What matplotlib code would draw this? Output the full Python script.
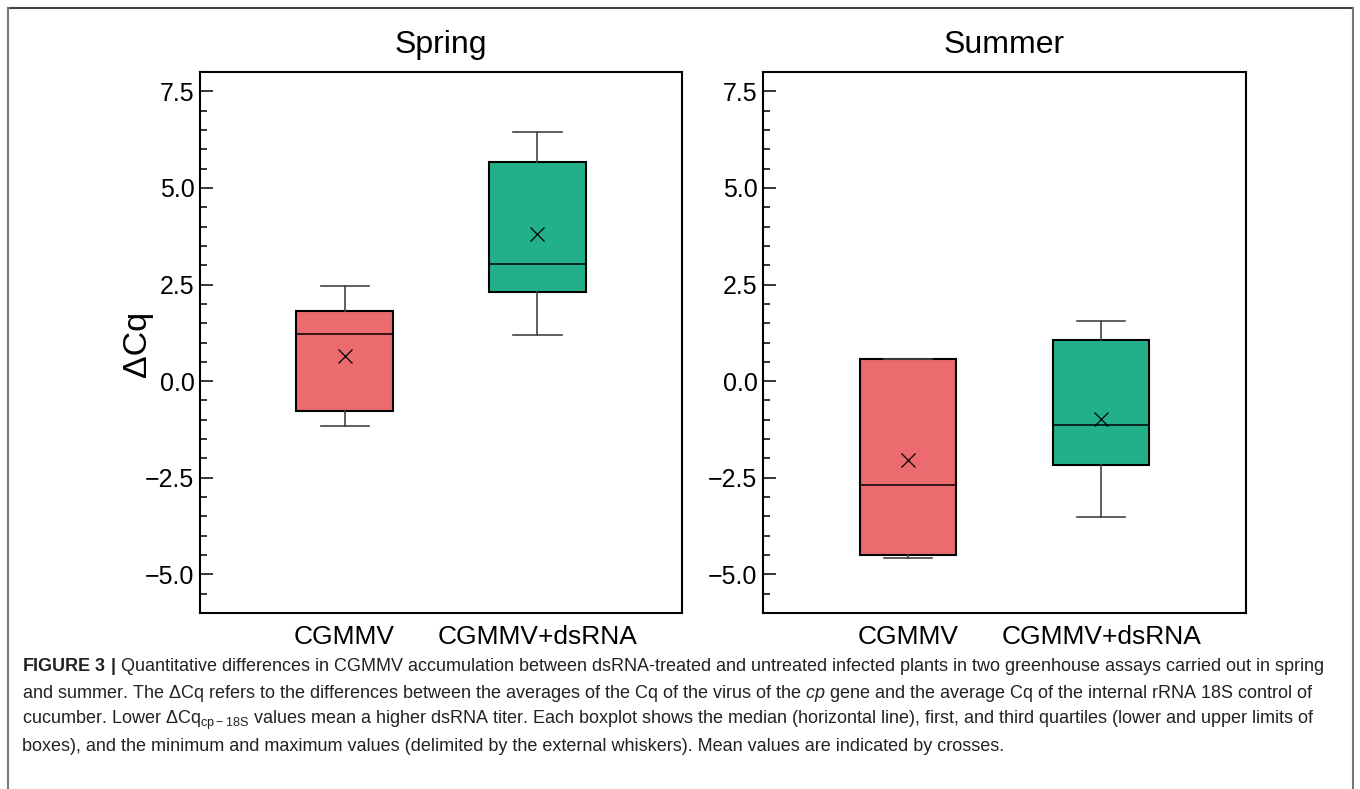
import matplotlib
matplotlib.use("Agg")
import matplotlib.pyplot as plt
from matplotlib.lines import Line2D
from matplotlib.ticker import MultipleLocator, FuncFormatter

plt.rcParams["font.family"] = ["Liberation Sans", "DejaVu Sans"]
plt.rcParams["mathtext.fontset"] = "custom"
plt.rcParams["mathtext.rm"] = "Liberation Sans"
plt.rcParams["mathtext.it"] = "Liberation Sans:italic"
plt.rcParams["mathtext.bf"] = "Liberation Sans:bold"

GROUPS = ["CGMMV", "CGMMV+dsRNA"]
BOX_COLORS = ["#EC6B6E", "#22B08A"]

# spring assay: five-number summary and mean per group
SPRING_MIN = [-1.17, 1.20]
SPRING_Q1 = [-0.77, 2.31]
SPRING_MED = [1.23, 3.02]
SPRING_Q3 = [1.82, 5.67]
SPRING_MAX = [2.45, 6.44]
SPRING_MEAN = [0.64, 3.82]

# summer assay
SUMMER_MIN = [-4.57, -3.52]
SUMMER_Q1 = [-4.49, -2.16]
SUMMER_MED = [-2.68, -1.14]
SUMMER_Q3 = [0.57, 1.06]
SUMMER_MAX = [0.57, 1.56]
SUMMER_MEAN = [-2.05, -0.98]

CAPTION = [
    r"$\bf{FIGURE\ 3\ |}$ Quantitative differences in CGMMV accumulation between dsRNA-treated and untreated infected plants in two greenhouse assays carried out in spring",
    r"and summer. The ΔCq refers to the differences between the averages of the Cq of the virus of the $\it{cp}$ gene and the average Cq of the internal rRNA 18S control of",
    r"cucumber. Lower ΔCq$_{\rm{cp-18S}}$ values mean a higher dsRNA titer. Each boxplot shows the median (horizontal line), first, and third quartiles (lower and upper limits of",
    r"boxes), and the minimum and maximum values (delimited by the external whiskers). Mean values are indicated by crosses.",
]


def make_stats(lo, q1, med, q3, hi, mean):
    return [
        dict(whislo=lo[i], q1=q1[i], med=med[i], q3=q3[i], whishi=hi[i],
             mean=mean[i], fliers=[], label=GROUPS[i])
        for i in range(len(GROUPS))
    ]


def draw_panel(ax, stats, title):
    bp = ax.bxp(
        stats, positions=[1, 2], widths=0.5, patch_artist=True, showmeans=True,
        boxprops=dict(edgecolor="black", linewidth=1.5),
        medianprops=dict(color="black", linewidth=1.1),
        whiskerprops=dict(color="#444444", linewidth=1.2),
        capprops=dict(color="#444444", linewidth=1.2),
        capwidths=0.25,
        meanprops=dict(marker="x", markeredgecolor="black", markersize=10,
                       markeredgewidth=0.9),
    )
    for patch, color in zip(bp["boxes"], BOX_COLORS):
        patch.set_facecolor(color)

    ax.set_xlim(0.25, 2.75)
    ax.set_ylim(-6, 8)
    ax.yaxis.set_major_locator(MultipleLocator(2.5))
    ax.yaxis.set_minor_locator(MultipleLocator(0.5))
    ax.yaxis.set_major_formatter(
        FuncFormatter(lambda v, _: f"{v:.1f}".replace("-", "\u2212")))
    ax.tick_params(axis="y", which="both", direction="in", width=1.1,
                   labelsize=18, pad=4, right=False)
    ax.tick_params(axis="y", which="major", length=9)
    ax.tick_params(axis="y", which="minor", length=5)
    ax.tick_params(axis="x", length=0, labelsize=19, pad=9)
    for spine in ax.spines.values():
        spine.set_linewidth(1.5)
    ax.set_title(title, fontsize=23, pad=14)


fig = plt.figure(figsize=(13.6, 7.89), dpi=100)
ax_spring = fig.add_axes([200 / 1360, 1 - 613 / 789, 482 / 1360, 541 / 789])
ax_summer = fig.add_axes([763 / 1360, 1 - 613 / 789, 483 / 1360, 541 / 789])

draw_panel(ax_spring, make_stats(SPRING_MIN, SPRING_Q1, SPRING_MED, SPRING_Q3,
                                 SPRING_MAX, SPRING_MEAN), "Spring")
draw_panel(ax_summer, make_stats(SUMMER_MIN, SUMMER_Q1, SUMMER_MED, SUMMER_Q3,
                                 SUMMER_MAX, SUMMER_MEAN), "Summer")
fig.text(138 / 1360, 1 - 344 / 789, "ΔCq", rotation=90, fontsize=24.5,
         ha="center", va="center")

# caption block under the panels
for i, line in enumerate(CAPTION):
    fig.text(22 / 1360, 1 - (671 + i * 26.6) / 789, line, fontsize=13,
             color="#222222", ha="left", va="baseline")

# frame around figure + caption (bottom edge runs off the page)
fig.add_artist(Line2D([8 / 1360, 1353 / 1360], [1 - 8 / 789, 1 - 8 / 789],
                      color="#444444", linewidth=1.5))
fig.add_artist(Line2D([8 / 1360, 8 / 1360], [0, 1 - 8 / 789],
                      color="#777777", linewidth=1.5))
fig.add_artist(Line2D([1353 / 1360, 1353 / 1360], [0, 1 - 8 / 789],
                      color="#777777", linewidth=1.5))

fig.savefig("out.png", dpi=100)
